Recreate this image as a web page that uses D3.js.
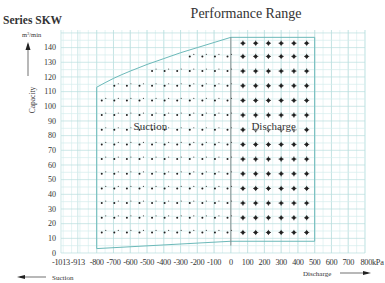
<!DOCTYPE html>
<html>
<head>
<meta charset="utf-8">
<script src="https://cdn.jsdelivr.net/npm/d3@7"></script>
<style>
  body { margin: 0; background: #fff; }
  text { font-family: "Liberation Serif", "DejaVu Serif", serif; fill: #333; }
</style>
</head>
<body>
<script>
// tick labels
var xTicks = [-1013, -913, -800, -700, -600, -500, -400, -300, -200, -100, 0, 100, 200, 300, 400, 500, 600, 700, 800];
var yTicks = [0, 10, 20, 30, 40, 50, 60, 70, 80, 90, 100, 110, 120, 130, 140];

// suction boundary (kPa, m3/min)
var suctionTop = [[-800, 113], [-700, 119], [-600, 124], [-500, 128.5], [-400, 132.5], [-300, 136.5], [-200, 140], [-100, 143.5], [0, 147]];
var suctionBottom = [[0, 8], [-800, 3]];
// discharge boundary
var dischargeBox = [[0, 147], [500, 147], [500, 8], [0, 8]];

// dot grid positions
var suctionCols = [-770, -695, -620, -545, -470, -395, -320, -245, -170, -95, -20];
var suctionRows = [14, 24, 34, 44, 54, 64, 74, 84, 94, 104, 114, 124, 134, 144];
var dischargeCols = [72, 148, 224, 300, 376, 452];
var dischargeRows = [14, 24, 34, 44, 54, 64, 74, 84, 94, 104, 114, 124, 134, 143];

function draw() {
  var width = 385, height = 283;
  var svg = d3.select("body").append("svg")
    .attr("width", width).attr("height", height);

  var x = d3.scaleLinear().domain([-1013, 800]).range([61, 365]);
  var y = d3.scaleLinear().domain([0, 152]).range([253, 30]);

  // grid
  var grid = svg.append("g");
  var minorX = d3.range(-1000, 801, 50);
  grid.selectAll(".vx").data(minorX).enter().append("line")
    .attr("x1", d => x(d)).attr("x2", d => x(d))
    .attr("y1", y(0)).attr("y2", y(152))
    .attr("stroke", "#d4ecec").attr("stroke-width", 0.6);
  grid.selectAll(".vmaj").data(xTicks).enter().append("line")
    .attr("x1", d => x(d)).attr("x2", d => x(d))
    .attr("y1", y(0)).attr("y2", y(152))
    .attr("stroke", "#b9dede").attr("stroke-width", 0.7);
  grid.selectAll(".hy").data(d3.range(0, 151, 5)).enter().append("line")
    .attr("x1", x(-1013)).attr("x2", x(800))
    .attr("y1", d => y(d)).attr("y2", d => y(d))
    .attr("stroke", d => d % 10 === 0 ? "#b9dede" : "#d4ecec")
    .attr("stroke-width", 0.7);

  // boundaries
  var line = d3.line().x(d => x(d[0])).y(d => y(d[1]));
  var curve = d3.line().x(d => x(d[0])).y(d => y(d[1])).curve(d3.curveMonotoneX);
  svg.append("path").attr("d", curve(suctionTop))
    .attr("fill", "none").attr("stroke", "#6cb9b9").attr("stroke-width", 1);
  svg.append("path").attr("d", line([[0, 8], [-800, 3], [-800, 113]]))
    .attr("fill", "none").attr("stroke", "#6cb9b9").attr("stroke-width", 1);
  svg.append("path").attr("d", line(dischargeBox))
    .attr("fill", "none").attr("stroke", "#6cb9b9").attr("stroke-width", 1);
  svg.append("line")
    .attr("x1", x(0)).attr("x2", x(0)).attr("y1", y(147)).attr("y2", y(5))
    .attr("stroke", "#777").attr("stroke-width", 0.8);

  // suction dots
  var topAt = d3.scaleLinear().domain(suctionTop.map(d => d[0])).range(suctionTop.map(d => d[1]));
  var sDots = [];
  suctionCols.forEach(function (c) {
    suctionRows.forEach(function (r) {
      if (r < topAt(c) - 3) sDots.push([c, r]);
    });
  });
  var sg = svg.append("g");
  sg.selectAll(".sd").data(sDots).enter().append("circle")
    .attr("cx", d => x(d[0])).attr("cy", d => y(d[1]))
    .attr("r", 1).attr("fill", "#222");
  sg.selectAll(".sd2").data(sDots).enter().append("circle")
    .attr("cx", d => x(d[0]) + 4).attr("cy", d => y(d[1]) - 2)
    .attr("r", 0.6).attr("fill", "#555");

  // discharge dots
  var dDots = [];
  dischargeCols.forEach(function (c) {
    dischargeRows.forEach(function (r) { dDots.push([c, r]); });
  });
  var dg = svg.append("g");
  dg.selectAll(".dd").data(dDots).enter().append("circle")
    .attr("cx", d => x(d[0])).attr("cy", d => y(d[1]))
    .attr("r", 1.7).attr("fill", "#222");
  dg.selectAll(".ddh").data(dDots).enter().append("path")
    .attr("d", d => "M" + (x(d[0]) - 2.6) + "," + y(d[1]) + "h5.2M" + x(d[0]) + "," + (y(d[1]) - 2.6) + "v5.2")
    .attr("stroke", "#222").attr("stroke-width", 0.8);

  // region labels
  svg.append("text").attr("x", x(-480)).attr("y", y(84)).attr("text-anchor", "middle")
    .attr("font-size", 11).text("Suction");
  svg.append("rect").attr("x", x(115)).attr("y", y(91)).attr("width", 46).attr("height", 11).attr("fill", "#fff").attr("opacity", 0.8);
  svg.append("text").attr("x", x(255)).attr("y", y(84)).attr("text-anchor", "middle")
    .attr("font-size", 11).text("Discharge");

  // axis labels
  svg.append("g").selectAll("text").data(xTicks).enter().append("text")
    .attr("x", d => x(d) + (d === 800 ? 7 : 0)).attr("y", 265)
    .attr("text-anchor", "middle").attr("font-size", 8.3)
    .attr("letter-spacing", -0.3)
    .text(d => d === 800 ? "800kPa" : d);
  svg.append("g").selectAll("text").data(yTicks).enter().append("text")
    .attr("x", 56).attr("y", d => y(d) + 2.8)
    .attr("text-anchor", "end").attr("font-size", 8)
    .text(d => d);

  // titles
  svg.append("text").attr("x", 246).attr("y", 18).attr("text-anchor", "middle")
    .attr("font-size", 14).text("Performance Range");
  svg.append("text").attr("x", 3).attr("y", 24).attr("font-size", 11.5)
    .attr("font-weight", "bold").text("Series SKW");
  svg.append("text").attr("x", 22).attr("y", 37).attr("font-size", 6.5)
    .html("m<tspan dy='-2.5' font-size='4.5'>3</tspan><tspan dy='2.5'>/min</tspan>");
  svg.append("line").attr("x1", 28).attr("x2", 28).attr("y1", 76).attr("y2", 44)
    .attr("stroke", "#333").attr("stroke-width", 0.7);
  svg.append("path").attr("d", "M25.5,50L28,42L30.5,50Z").attr("fill", "#222");
  svg.append("text").attr("transform", "translate(35,100) rotate(-90)")
    .attr("text-anchor", "middle").attr("font-size", 7.5).text("Capacity");

  // direction arrows
  svg.append("line").attr("x1", 20).attr("x2", 46).attr("y1", 277).attr("y2", 277)
    .attr("stroke", "#333").attr("stroke-width", 0.7);
  svg.append("path").attr("d", "M17,277L25,275L25,279Z").attr("fill", "#222");
  svg.append("text").attr("x", 52).attr("y", 279.5).attr("font-size", 7).text("Suction");
  svg.append("text").attr("x", 303).attr("y", 275.5).attr("font-size", 7).text("Discharge");
  svg.append("line").attr("x1", 340).attr("x2", 368).attr("y1", 273).attr("y2", 273)
    .attr("stroke", "#333").attr("stroke-width", 0.7);
  svg.append("path").attr("d", "M371,273L363,271L363,275Z").attr("fill", "#222");
}

draw();
</script>
</body>
</html>
